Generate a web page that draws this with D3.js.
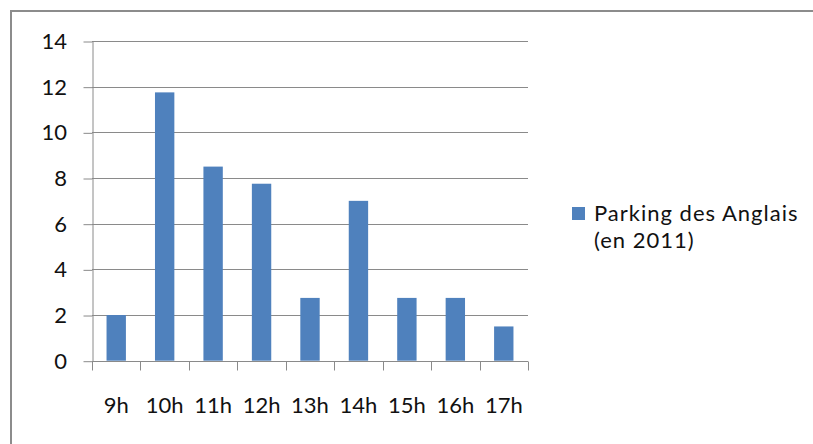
<!DOCTYPE html>
<html><head><meta charset="utf-8">
<script src="https://cdn.jsdelivr.net/npm/d3@7"></script>
<style>body{margin:0;background:#fff}svg{display:block}text{font-family:Lato,"Open Sans",sans-serif;fill:#111}</style>
</head><body>
<svg id="c" width="813" height="444"></svg>
<script>
const categories = ["9h","10h","11h","12h","13h","14h","15h","16h","17h"];
const values = [2, 11.75, 8.5, 7.75, 2.75, 7, 2.75, 2.75, 1.5];
const yTicks = [0,2,4,6,8,10,12,14];
const seriesName = ["Parking des Anglais", "(en 2011)"];

(function(){
const svg = d3.select("#c");
const W = 813, H = 444, FS = 22;
svg.append("rect").attr("x",0).attr("y",0).attr("width",W).attr("height",H).attr("fill","#fff");
svg.append("rect").attr("x",11).attr("y",11).attr("width",W+20).attr("height",H+20)
  .attr("fill","none").attr("stroke","#8c8c8c").attr("stroke-width",2);

const pL = 92, pR = 528, pT = 41, pB = 360.7;
const x = d3.scaleBand().domain(categories).range([pL,pR]).paddingInner(0.6).paddingOuter(0.3);
const y = d3.scaleLinear().domain([0,14]).range([pB,pT]);

// gridlines
svg.append("g").selectAll("line").data(yTicks.filter(d=>d>0)).join("line")
  .attr("x1",pL).attr("x2",pR).attr("y1",d=>Math.round(y(d))+0.5).attr("y2",d=>Math.round(y(d))+0.5)
  .attr("stroke","#8a8a8a").attr("stroke-width",1);

// y axis
const yAxis = d3.axisLeft(y).tickValues(yTicks).tickSize(9).tickPadding(16.5).tickSizeOuter(0);
const gy = svg.append("g").attr("transform",`translate(${pL+0.5},0.5)`).call(yAxis);
gy.select(".domain").attr("stroke","#8a8a8a");
gy.selectAll(".tick line").attr("stroke","#8a8a8a");
gy.selectAll("text").attr("font-size",FS).attr("fill","#111").attr("font-family","Lato,'Open Sans',sans-serif");

// x axis line & ticks
const gx = svg.append("g").attr("transform",`translate(0,${Math.round(pB)+0.5})`);
gx.append("line").attr("x1",pL).attr("x2",pR).attr("stroke","#8a8a8a");
const bounds = d3.range(categories.length+1).map(i=>pL + (pR-pL)*i/categories.length);
gx.selectAll("line.t").data(bounds).join("line").attr("class","t")
  .attr("x1",d=>Math.round(d)+0.5).attr("x2",d=>Math.round(d)+0.5).attr("y1",0).attr("y2",9)
  .attr("stroke","#8a8a8a");
gx.selectAll("text").data(categories).join("text")
  .attr("x",d=>x(d)+x.bandwidth()/2).attr("y",51).attr("text-anchor","middle")
  .attr("font-size",FS).text(d=>d);

// bars
svg.append("g").selectAll("rect").data(values).join("rect")
  .attr("x",(d,i)=>x(categories[i])).attr("width",x.bandwidth())
  .attr("y",d=>y(d)).attr("height",d=>y(0)-y(d))
  .attr("fill","#4F81BD");

// legend
svg.append("rect").attr("x",572).attr("y",207).attr("width",13).attr("height",13).attr("fill","#4F81BD");
svg.append("g").selectAll("text").data(seriesName).join("text")
  .attr("x",594).attr("y",(d,i)=>221+i*26.5).attr("font-size",FS)
  .attr("letter-spacing",1).text(d=>d);
})();
</script>
</body></html>
